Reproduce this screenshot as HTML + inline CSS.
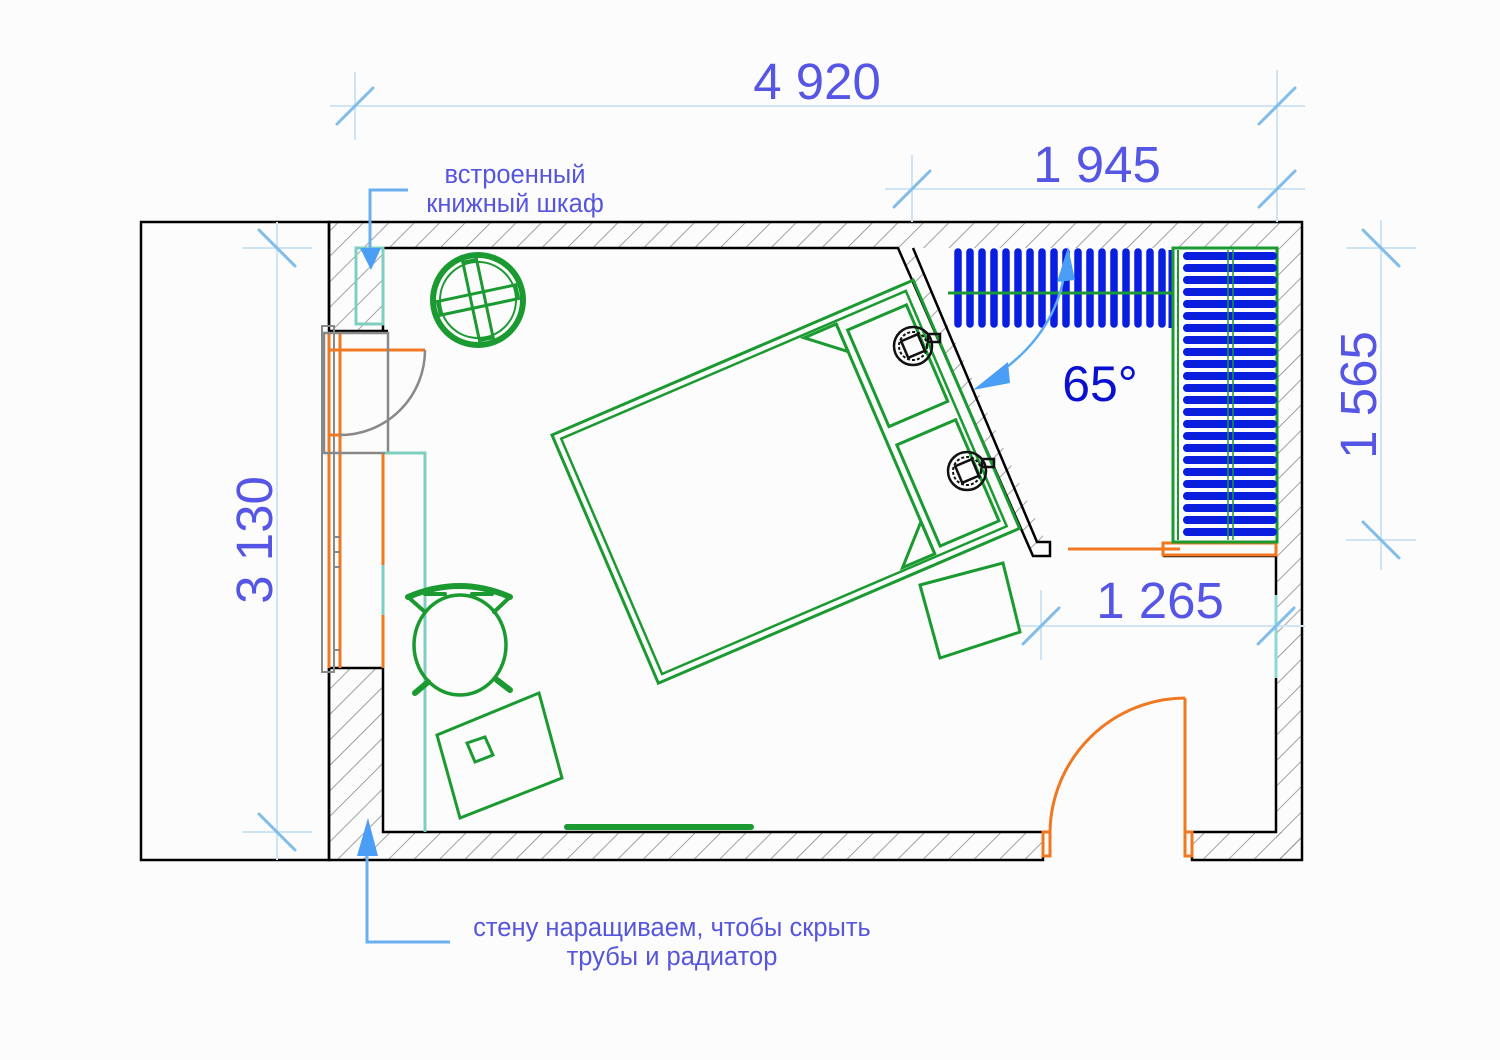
<!DOCTYPE html>
<html><head><meta charset="utf-8"><style>
html,body{margin:0;padding:0;background:#fcfcfc;}
svg{display:block;}
text{font-family:"Liberation Sans",sans-serif;}
</style></head><body>
<svg width="1500" height="1060" viewBox="0 0 1500 1060" xmlns="http://www.w3.org/2000/svg">
<defs>
<pattern id="h" width="18" height="18" patternUnits="userSpaceOnUse" patternTransform="rotate(45)">
<line x1="0" y1="0" x2="0" y2="18" stroke="#8a8a8a" stroke-width="1.6"/>
</pattern>
</defs>
<rect width="1500" height="1060" fill="#fcfcfc"/>

<g fill="url(#h)" stroke="none">
<rect x="329" y="222" width="973" height="26"/>
<rect x="329" y="248" width="55" height="83"/>
<rect x="329" y="668" width="54" height="192"/>
<rect x="383" y="832" width="660" height="28"/>
<rect x="1192" y="832" width="110" height="28"/>
<rect x="1276" y="248" width="26" height="612"/>
<polygon points="898,248 913,248 1045,540 1050,556 1033,556"/>
</g>

<g fill="none" stroke="#000" stroke-width="2.5">
<rect x="141" y="222" width="188" height="638"/>
<polyline points="329,326 329,222 1302,222 1302,860 1192,860 1192,832 1276,832 1276,556"/>
<polyline points="1043,832 383,832 383,668 329,668 329,860 1043,860 1043,832"/>
<polyline points="383,331 383,248 898,248 1033,556 1050,556 1050,542 1037,542 913,248"/>
<line x1="329" y1="331" x2="388" y2="331"/>
<polyline points="1163,556 1276,556"/>
</g>

<g fill="none">
<rect x="322" y="326" width="12" height="346" stroke="#888" stroke-width="2"/>
<line x1="329" y1="333" x2="329" y2="668" stroke="#f07820" stroke-width="3"/>
<line x1="340" y1="333" x2="340" y2="668" stroke="#f07820" stroke-width="3"/>
<line x1="383" y1="453" x2="383" y2="565" stroke="#f07820" stroke-width="3"/>
<line x1="383" y1="565" x2="383" y2="615" stroke="#7fcfc0" stroke-width="3"/>
<line x1="383" y1="615" x2="383" y2="668" stroke="#f07820" stroke-width="3"/>
<line x1="329" y1="350" x2="425" y2="350" stroke="#f07820" stroke-width="3"/>
<line x1="329" y1="435" x2="342" y2="435" stroke="#f07820" stroke-width="3"/>
<rect x="324" y="333" width="64" height="120" stroke="#888" stroke-width="2.5"/>
<path d="M425,350 A85,85 0 0 1 340,435" stroke="#888" stroke-width="2.5"/>
<line x1="334" y1="537" x2="340" y2="537" stroke="#888" stroke-width="2"/>
<line x1="334" y1="552" x2="340" y2="552" stroke="#888" stroke-width="2"/>
<line x1="334" y1="567" x2="340" y2="567" stroke="#888" stroke-width="2"/>
<line x1="334" y1="650" x2="340" y2="650" stroke="#888" stroke-width="2"/>
<polyline points="385,453 425,453 425,832" stroke="#7fcfc0" stroke-width="3"/>
<rect x="356" y="248" width="27" height="76" stroke="#7fcfc0" stroke-width="3"/>
</g>

<g fill="none" stroke="#f07820" stroke-width="3">
<rect x="1043" y="832" width="7" height="24"/>
<rect x="1185" y="832" width="7" height="24"/>
<line x1="1185" y1="698" x2="1185" y2="832"/>
<path d="M1185,698 A136,136 0 0 0 1050,832"/>
<rect x="1163" y="543" width="113" height="12"/>
<line x1="1068" y1="549" x2="1180" y2="549"/>
</g>
<line x1="1276" y1="595" x2="1276" y2="678" stroke="#8fd8d8" stroke-width="3"/>

<!-- wardrobe -->
<g stroke="#0a1ee0" stroke-width="7.5" stroke-linecap="round">
<path d="M958,252V324M970,252V324M982,252V324M994,252V324M1006,252V324M1018,252V324M1030,252V324M1042,252V324M1054,252V324M1066,252V324M1078,252V324M1090,252V324M1102,252V324M1114,252V324M1126,252V324M1138,252V324M1150,252V324M1162,252V324"/>
</g>
<line x1="1171" y1="250" x2="1171" y2="328" stroke="#0a1ee0" stroke-width="5"/>
<line x1="948" y1="293" x2="1172" y2="293" stroke="#1a9a30" stroke-width="3"/>
<rect x="1173" y="248" width="104" height="294" fill="none" stroke="#1a9a30" stroke-width="3"/>
<g stroke="#0a1ee0" stroke-width="8" stroke-linecap="round">
<path d="M1187,256H1273M1187,268H1273M1187,280H1273M1187,292H1273M1187,304H1273M1187,316H1273M1187,328H1273M1187,340H1273M1187,352H1273M1187,364H1273M1187,376H1273M1187,388H1273M1187,400H1273M1187,412H1273M1187,424H1273M1187,436H1273M1187,448H1273M1187,460H1273M1187,472H1273M1187,484H1273M1187,496H1273M1187,508H1273M1187,520H1273M1187,532H1273"/>
</g>
<line x1="1228" y1="250" x2="1228" y2="540" stroke="#1a9a30" stroke-width="1.5"/>
<line x1="1233" y1="250" x2="1233" y2="540" stroke="#1a9a30" stroke-width="1.5"/>
<line x1="1178" y1="250" x2="1178" y2="540" stroke="#1a9a30" stroke-width="2"/>

<path d="M1065,270 Q1055,340 985,382" fill="none" stroke="#5aaaf0" stroke-width="2.5"/>
<polygon points="1068,247 1057,282 1075,280" fill="#4a9ef5"/>
<polygon points="973,390 1008,362 1010,383" fill="#4a9ef5"/>
<text x="1100" y="401" font-size="50" fill="#0a10d0" text-anchor="middle">65°</text>

<g fill="none" stroke="#1a9a30">
<circle cx="478" cy="300" r="45" stroke-width="6"/>
<circle cx="478" cy="300" r="38" stroke-width="2"/>
<g transform="translate(478,300) rotate(-12)" stroke-width="3">
<rect x="-7" y="-40" width="14" height="80"/>
<rect x="-40" y="-7" width="80" height="14"/>
</g>
</g>

<!-- bed -->
<g transform="translate(552,435) rotate(-23.2)" fill="none" stroke="#1a9a30" stroke-width="3">
<rect x="0" y="0" width="393" height="270"/>
<rect x="7" y="7" width="375" height="256" stroke-width="2.5"/>
<line x1="305" y1="10" x2="305" y2="260"/>
<polygon points="270,10 305,10 305,40"/>
<polygon points="270,260 305,260 305,225"/>
<rect x="313" y="20" width="64" height="105"/>
<rect x="313" y="145" width="64" height="110"/>
</g>
<g fill="none" stroke="#111" stroke-width="2.5">
<circle cx="913" cy="346" r="19"/><rect x="904" y="337" width="18" height="18" transform="rotate(-23 913 346)"/>
<circle cx="913" cy="346" r="14" stroke-dasharray="3 2" stroke-width="2"/>
<rect x="928" y="334" width="12" height="8"/>
<circle cx="967" cy="471" r="19"/><rect x="958" y="462" width="18" height="18" transform="rotate(-23 967 471)"/>
<circle cx="967" cy="471" r="14" stroke-dasharray="3 2" stroke-width="2"/>
<rect x="982" y="459" width="12" height="8"/>
</g>

<polygon points="920,585 1003,563 1020,632 940,658" fill="none" stroke="#1a9a30" stroke-width="3"/>

<g fill="none" stroke="#1a9a30" stroke-linecap="round">
<ellipse cx="460" cy="645" rx="46" ry="50" stroke-width="3.5"/>
<path d="M408,597 Q460,575 510,597" stroke-width="6"/>
<path d="M408,597 L425,612 M510,597 L494,612 M425,594 L445,594 M472,594 L492,594" stroke-width="4"/>
<line x1="415" y1="693" x2="428" y2="682" stroke-width="6"/>
<line x1="510" y1="690" x2="497" y2="680" stroke-width="6"/>
</g>
<polygon points="437,735 539,693 562,778 460,818" fill="none" stroke="#1a9a30" stroke-width="3"/>
<polygon points="467,743 485,737 493,755 475,762" fill="none" stroke="#1a9a30" stroke-width="3"/>
<line x1="567" y1="827" x2="751" y2="827" stroke="#1a9a30" stroke-width="6" stroke-linecap="round"/>

<g stroke="#cfe4f4" stroke-width="2" fill="none">
<line x1="330" y1="106" x2="1305" y2="106"/>
<line x1="355" y1="72" x2="355" y2="140"/>
<line x1="1277" y1="70" x2="1277" y2="222"/>
<line x1="885" y1="189" x2="1305" y2="189"/>
<line x1="912" y1="155" x2="912" y2="222"/>
<line x1="277" y1="222" x2="277" y2="860"/>
<line x1="242" y1="248" x2="312" y2="248"/>
<line x1="242" y1="832" x2="312" y2="832"/>
<line x1="1381" y1="220" x2="1381" y2="570"/>
<line x1="1346" y1="248" x2="1416" y2="248"/>
<line x1="1346" y1="540" x2="1416" y2="540"/>
<line x1="1020" y1="626" x2="1305" y2="626"/>
<line x1="1041" y1="590" x2="1041" y2="660"/>
</g>
<g stroke="#82bdea" stroke-width="3" stroke-linecap="round">
<line x1="337" y1="124" x2="373" y2="88"/>
<line x1="1259" y1="124" x2="1295" y2="88"/>
<line x1="894" y1="207" x2="930" y2="171"/>
<line x1="1259" y1="207" x2="1295" y2="171"/>
<line x1="259" y1="230" x2="295" y2="266"/>
<line x1="259" y1="814" x2="295" y2="850"/>
<line x1="1363" y1="230" x2="1399" y2="266"/>
<line x1="1363" y1="522" x2="1399" y2="558"/>
<line x1="1023" y1="644" x2="1059" y2="608"/>
<line x1="1258" y1="644" x2="1294" y2="608"/>
</g>
<g fill="#5555e6" font-size="51" text-anchor="middle">
<text x="817" y="99">4 920</text>
<text x="1097" y="182">1 945</text>
<text x="1160" y="618">1 265</text>
<text transform="translate(272,540) rotate(-90)">3 130</text>
<text transform="translate(1376,395) rotate(-90)">1 565</text>
</g>

<g stroke="#6aaff0" stroke-width="3" fill="none">
<polyline points="408,190 370,190 370,250"/>
<polyline points="367,850 367,942 450,942"/>
</g>
<polygon points="360,248 381,248 371,270" fill="#4a9ef5"/>
<polygon points="357,856 378,856 368,818" fill="#4a9ef5"/>
<g fill="#5555dd" font-size="25.5" text-anchor="middle">
<text x="515" y="183">встроенный</text>
<text x="515" y="212">книжный шкаф</text>
<text x="672" y="936">стену наращиваем, чтобы скрыть</text>
<text x="672" y="965">трубы и радиатор</text>
</g>
</svg>
</body></html>
